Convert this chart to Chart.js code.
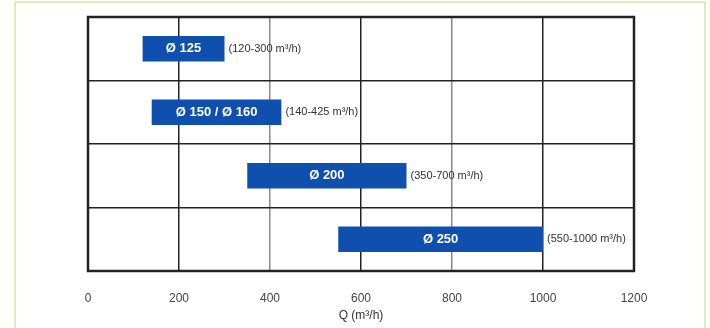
<!DOCTYPE html>
<html>
<head>
<meta charset="utf-8">
<script src="https://cdn.jsdelivr.net/npm/chart.js@4"></script>
<style>
  html, body { margin: 0; padding: 0; background: #fff; }
  #wrap { position: relative; width: 710px; height: 328px; }
</style>
</head>
<body>
<div id="wrap"><canvas id="chart" width="710" height="328"></canvas></div>
<script>
// duct sizes and their airflow ranges (m3/h)
const ducts = ['Ø 125', 'Ø 150 / Ø 160', 'Ø 200', 'Ø 250'];
const flowMin = [120, 140, 350, 550];
const flowMax = [300, 425, 700, 1000];
const rangeLabels = ['(120-300 m³/h)', '(140-425 m³/h)', '(350-700 m³/h)', '(550-1000 m³/h)'];
const xTicks = [0, 200, 400, 600, 800, 1000, 1200];

// outer greenish frame + thick plot border
const framePlugin = {
  id: 'frame',
  beforeDraw(chart) {
    const ctx = chart.ctx;
    ctx.save();
    ctx.strokeStyle = '#e2ebb8';
    ctx.lineWidth = 2;
    ctx.strokeRect(15, 2, 690, 340);
    ctx.restore();
  },
  afterDatasetsDraw(chart) {
    const { ctx, chartArea: a } = chart;
    ctx.save();
    ctx.strokeStyle = '#222';
    ctx.lineWidth = 2.5;
    ctx.strokeRect(a.left, a.top, a.right - a.left, a.bottom - a.top);
    ctx.restore();
  }
};

// text inside and beside the bars
const labelPlugin = {
  id: 'barLabels',
  afterDatasetsDraw(chart) {
    const ctx = chart.ctx;
    const meta = chart.getDatasetMeta(0);
    ctx.save();
    ctx.textBaseline = 'middle';
    meta.data.forEach((bar, i) => {
      const left = Math.min(bar.x, bar.base);
      const right = Math.max(bar.x, bar.base);
      ctx.fillStyle = '#ffffff';
      ctx.font = 'bold 13px "Liberation Sans", Arial, sans-serif';
      ctx.textAlign = 'center';
      ctx.fillText(ducts[i], (left + right) / 2, bar.y);
      ctx.fillStyle = '#333';
      ctx.font = '11px "Liberation Sans", Arial, sans-serif';
      ctx.textAlign = 'left';
      ctx.fillText(rangeLabels[i], right + 4, bar.y);
    });
    ctx.restore();
  }
};

new Chart(document.getElementById('chart'), {
  type: 'bar',
  data: {
    labels: ducts,
    datasets: [{
      data: ducts.map((d, i) => [flowMin[i], flowMax[i]]),
      backgroundColor: '#0f4fae',
      borderWidth: 0,
      barPercentage: 0.4,
      categoryPercentage: 1
    }]
  },
  options: {
    responsive: false,
    animation: false,
    indexAxis: 'y',
    layout: { padding: { left: 88, right: 76, top: 17, bottom: 5 } },
    plugins: { legend: { display: false }, tooltip: { enabled: false } },
    scales: {
      x: {
        min: 0,
        max: 1200,
        afterBuildTicks: s => { s.ticks = xTicks.map(v => ({ value: v })); },
        afterFit: s => { s.height = 52; },
        border: { display: false },
        grid: {
          drawTicks: false,
          lineWidth: 1.5,
          color: c => (c.tick && (c.tick.value === 400 || c.tick.value === 800)) ? '#8a8a8a' : '#222'
        },
        ticks: {
          padding: 20,
          color: '#444',
          callback: v => String(v),
          font: { family: '"Liberation Sans", Arial, sans-serif', size: 12 }
        },
        title: {
          display: true,
          text: 'Q (m³/h)',
          color: '#333',
          padding: { top: 0, bottom: 0 },
          font: { family: '"Liberation Sans", Arial, sans-serif', size: 12 }
        }
      },
      y: {
        afterFit: s => { s.width = 0; },
        border: { display: false },
        grid: { drawTicks: false, lineWidth: 1.5, color: '#222', offset: true },
        ticks: { display: false }
      }
    }
  },
  plugins: [framePlugin, labelPlugin]
});
</script>
</body>
</html>
